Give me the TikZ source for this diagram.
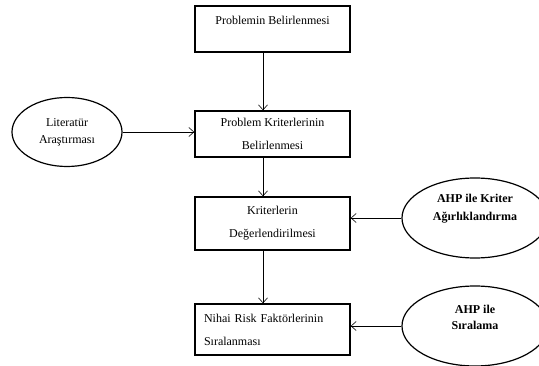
\documentclass[tikz,border=0pt]{standalone}
\usepackage{fontspec}
\setmainfont{Liberation Serif}
\usetikzlibrary{shapes.geometric,arrows.meta}
\begin{document}
\begin{tikzpicture}[x=1pt,y=-1pt,
  stepbox/.style={draw,line width=1.4pt,rectangle,minimum width=155pt,minimum height=46pt,inner sep=0pt,align=center,font=\fontsize{12}{23}\selectfont},
  oval/.style={draw,line width=1.2pt,ellipse,inner sep=0pt,align=center},
  conn/.style={line width=0.6pt,-{Straight Barb[length=5pt,width=9pt]}}]
\useasboundingbox (0,0) rectangle (539,366);
\coordinate (ax) at (263,0);
\node[stepbox] (b1) at (272.5,29) {Problemin Belirlenmesi\\[-6pt]~};
\node[stepbox] (b2) at (272.5,134) {Problem Kriterlerinin\\Belirlenmesi};
\node[stepbox,minimum height=53pt] (b3) at (272.5,223.5) {Kriterlerin\\Değerlendirilmesi};
\node[stepbox,minimum height=51pt,text width=137pt,align=left,inner sep=9pt] (b4) at (272.5,329.5) {Nihai Risk Faktörlerinin\\Sıralanması};
\node[oval,minimum width=110pt,minimum height=69pt,font=\fontsize{12}{17}\selectfont] (lit) at (67,132) {Literatür\\Araştırması};
\node[oval,minimum width=146pt,minimum height=80pt,font=\bfseries\fontsize{12}{18}\selectfont] (ahp1) at (475,218) {AHP ile Kriter\\Ağırlıklandırma\\[4pt]};
\node[oval,minimum width=146pt,minimum height=80pt,font=\bfseries\fontsize{12}{16}\selectfont] (ahp2) at (475,326) {AHP ile\\Sıralama\\[2pt]};
\draw[conn] (b1.south -| ax) -- (b2.north -| ax);
\draw[conn] (b2.south -| ax) -- (b3.north -| ax);
\draw[conn] (b3.south -| ax) -- (b4.north -| ax);
\draw[conn] (lit.east) -- (b2.west |- lit.east);
\draw[conn] (ahp1.west) -- (b3.east |- ahp1.west);
\draw[conn] (ahp2.west) -- (b4.east |- ahp2.west);
\end{tikzpicture}
\end{document}
